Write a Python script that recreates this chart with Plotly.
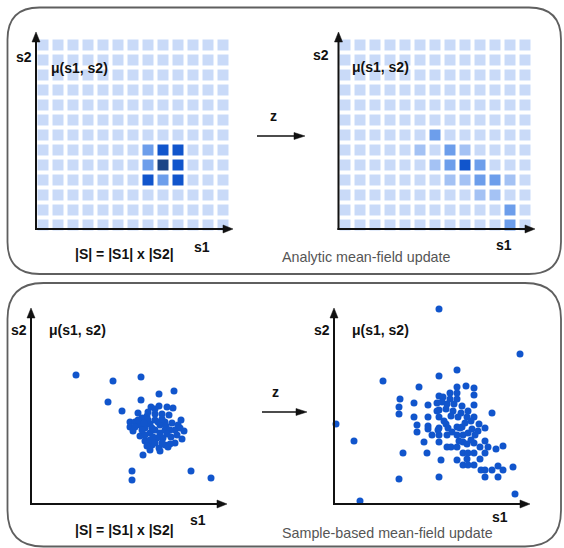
import plotly.graph_objects as go

W, H = 564, 548

# ---------------- data ----------------
GRID_N = 13
level_colors = ["#c9daf8", "#a4c2f4", "#6d9eeb", "#1155cc", "#1c4587"]

# (row from top, column from left, intensity level)
before_rows = [7, 7, 7, 8, 8, 8, 9, 9, 9]
before_cols = [7, 8, 9, 7, 8, 9, 7, 8, 9]
before_lvls = [2, 3, 3, 2, 4, 3, 3, 2, 3]

after_rows = [6, 7, 7, 7, 8, 8, 8, 8, 9, 9, 9, 9, 9, 10, 10, 11, 12]
after_cols = [6, 5, 7, 8, 6, 7, 8, 9, 7, 8, 9, 10, 11, 9, 10, 11, 11]
after_lvls = [2, 1, 2, 1, 1, 2, 3, 2, 1, 1, 2, 2, 1, 1, 1, 2, 2]

# sample-based: samples before the update
before_s1 = [45, 82, 110, 143, 128, 77, 110, 91, 112, 101, 101, 160, 180,
             120, 128, 136, 142, 138, 150, 99, 104, 99, 102, 111, 116, 124, 131,
             134, 141, 144, 153, 151, 144, 134, 128, 121, 114, 109, 129, 119, 140, 147,
             109, 114, 119, 124, 129, 124, 119, 114, 129, 134, 139, 132, 126, 119, 111,
             107, 117, 121, 127, 135, 139, 124, 116, 131, 104, 122, 113, 136, 146, 149,
             131, 117, 124, 107, 137]
before_s2 = [129, 123, 127, 113, 110, 102, 104, 93, 49, 33, 24, 33, 26,
             97, 98, 97, 96, 89, 84, 82, 82, 77, 73, 86, 88, 90, 90,
             82, 81, 74, 73, 65, 61, 59, 56, 59, 63, 68, 53, 54, 67, 79,
             79, 76, 80, 84, 79, 74, 71, 69, 71, 74, 74, 66, 66, 64, 74,
             84, 84, 76, 82, 78, 60, 61, 58, 85, 77, 67, 81, 70, 69, 76,
             61, 92, 95, 91, 57]

# sample-based: samples after the update
after_s1 = [105, 186, 49, 85, 105, 123, 66, 65, 65, 80, 80, 83, 83, 94, 94, 94, 94, 98,
            90, 93, 69, 65, 105, 107, 2, 20, 26, 181, 201,
            105, 109, 116, 123, 132, 140, 140, 123, 123, 103, 113, 116, 105, 112, 119,
            128, 140, 134, 158, 140, 133, 124, 117, 105, 112, 123, 128, 131, 138, 144,
            151, 105, 114, 105, 113, 123, 129, 134, 141, 105, 113, 117, 123, 129, 133,
            140, 151, 146, 154, 162, 169, 129, 134, 140, 151, 123, 133, 146, 129, 134,
            140, 147, 151, 151, 158, 164, 169, 164, 179,
            103, 104, 126, 108, 120, 127, 137, 118, 110, 125, 137, 145]
after_s2 = [195, 150, 123, 117, 128, 134, 105, 97, 90, 101, 87, 79, 72, 99, 87, 78, 75, 69,
            62, 51, 51, 25, 27, 44, 80, 63, 3, 10, 2,
            108, 107, 111, 117, 118, 116, 109, 111, 105, 101, 100, 105, 94, 95, 93,
            98, 99, 93, 91, 87, 87, 87, 88, 87, 80, 77, 77, 81, 75, 73,
            76, 76, 76, 69, 69, 69, 69, 71, 69, 62, 57, 57, 57, 62, 60,
            61, 63, 57, 57, 55, 58, 51, 51, 51, 51, 44, 45, 45, 39, 39,
            39, 34, 34, 27, 34, 38, 34, 27, 37,
            93, 74, 76, 102, 100, 91, 83, 72, 83, 63, 64, 80]

labels = {
    "s1": "s1", "s2": "s2", "mu": "μ(s1, s2)", "size": "|S| = |S1| x |S2|", "z": "z",
    "top_caption": "Analytic mean-field update",
    "bottom_caption": "Sample-based mean-field update",
}

# ---------------- helpers ----------------
def X(p):
    return p / W

def Y(p):
    return 1 - p / H

def build_z(rows, cols, lvls):
    z = [[0] * GRID_N for _ in range(GRID_N)]
    for r, c, v in zip(rows, cols, lvls):
        z[r][c] = v
    return z

n = len(level_colors)
colorscale = []
for i, c in enumerate(level_colors):
    colorscale.append([i / n, c])
    colorscale.append([(i + 1) / n, c])

fig = go.Figure()

# heatmaps
for idx, (rows, cols, lvls) in enumerate([(before_rows, before_cols, before_lvls),
                                          (after_rows, after_cols, after_lvls)], start=1):
    fig.add_trace(go.Heatmap(
        z=build_z(rows, cols, lvls), x=list(range(GRID_N)), y=list(range(GRID_N)),
        colorscale=colorscale, zmin=-0.5, zmax=n - 0.5, showscale=False,
        xgap=4, ygap=4, hoverinfo="skip",
        xaxis="x" if idx == 1 else "x2", yaxis="y" if idx == 1 else "y2"))

# scatters
fig.add_trace(go.Scatter(x=before_s1, y=before_s2, mode="markers",
                         marker=dict(size=7, color="#1155cc"), cliponaxis=False,
                         hoverinfo="skip", xaxis="x3", yaxis="y3"))
fig.add_trace(go.Scatter(x=after_s1, y=after_s2, mode="markers",
                         marker=dict(size=7, color="#1155cc"), cliponaxis=False,
                         hoverinfo="skip", xaxis="x4", yaxis="y4"))

hidden = dict(visible=False, fixedrange=True)
grid_x_range = [-0.5, GRID_N - 0.5]
grid_y_range = [GRID_N - 0.5, -0.5]
fig.update_layout(
    xaxis=dict(domain=[X(35.5), X(230.5)], range=grid_x_range, anchor="y", **hidden),
    yaxis=dict(domain=[Y(232.5), Y(37.5)], range=grid_y_range, anchor="x", **hidden),
    xaxis2=dict(domain=[X(337.5), X(532.5)], range=grid_x_range, anchor="y2", **hidden),
    yaxis2=dict(domain=[Y(232.5), Y(37.5)], range=grid_y_range, anchor="x2", **hidden),
    xaxis3=dict(domain=[X(31), X(231)], range=[0, 200], anchor="y3", **hidden),
    yaxis3=dict(domain=[Y(504), Y(304)], range=[0, 200], anchor="x3", **hidden),
    xaxis4=dict(domain=[X(334), X(534)], range=[0, 200], anchor="y4", **hidden),
    yaxis4=dict(domain=[Y(504), Y(304)], range=[0, 200], anchor="x4", **hidden),
)

shapes = []

def rounded_rect(x0, y0, x1, y1, r):
    pts = [
        ("M", [(x0 + r, y0)]), ("L", [(x1 - r, y0)]), ("Q", [(x1, y0), (x1, y0 + r)]),
        ("L", [(x1, y1 - r)]), ("Q", [(x1, y1), (x1 - r, y1)]), ("L", [(x0 + r, y1)]),
        ("Q", [(x0, y1), (x0, y1 - r)]), ("L", [(x0, y0 + r)]), ("Q", [(x0, y0), (x0 + r, y0)]),
    ]
    path = " ".join(cmd + " " + " ".join(f"{X(a):.5f},{Y(b):.5f}" for a, b in p) for cmd, p in pts) + " Z"
    shapes.append(dict(type="path", path=path, xref="paper", yref="paper",
                       line=dict(color="#5f5f5f", width=1.8), layer="below"))

def arrow(x0, y0, x1, y1, width, head_len, head_w, color="#111111"):
    dx, dy = x1 - x0, y1 - y0
    L = (dx * dx + dy * dy) ** 0.5
    ux, uy = dx / L, dy / L
    bx, by = x1 - ux * head_len, y1 - uy * head_len
    shapes.append(dict(type="line", xref="paper", yref="paper",
                       x0=X(x0), y0=Y(y0), x1=X(bx + ux * 1), y1=Y(by + uy * 1),
                       line=dict(color=color, width=width), layer="above"))
    px, py = -uy, ux
    p1 = (bx + px * head_w / 2, by + py * head_w / 2)
    p2 = (bx - px * head_w / 2, by - py * head_w / 2)
    path = f"M {X(x1):.5f},{Y(y1):.5f} L {X(p1[0]):.5f},{Y(p1[1]):.5f} L {X(p2[0]):.5f},{Y(p2[1]):.5f} Z"
    shapes.append(dict(type="path", path=path, xref="paper", yref="paper",
                       fillcolor=color, line=dict(color=color, width=0.5), layer="above"))

rounded_rect(7.5, 7.5, 561, 274, 32)
rounded_rect(7.5, 283, 561, 546.5, 36)

# axes of the four diagrams
arrow(36, 230, 36, 32, 2, 10, 8)
arrow(35, 229, 233, 229, 2, 10, 8)
arrow(338.5, 230, 338.5, 32, 2, 10, 8)
arrow(337.5, 229, 535, 229, 2, 10, 8)
arrow(31, 505, 31, 308, 2, 10, 8)
arrow(30, 504, 227, 504, 2, 10, 8)
arrow(334, 505, 334, 308, 2, 10, 8)
arrow(333, 504, 530, 504, 2, 10, 8)
# z arrows
arrow(257, 136, 305, 136, 1.6, 11, 7)
arrow(262, 412, 307, 412, 1.6, 11, 7)

fig.update_layout(shapes=shapes)

FONT = "Liberation Sans, Arial, sans-serif"
ann = []

def label(text, x, y, size=14, bold=True, color="#111111"):
    ann.append(dict(text=f"<b>{text}</b>" if bold else text, x=X(x), y=Y(y),
                    xref="paper", yref="paper", showarrow=False,
                    xanchor="center", yanchor="middle",
                    font=dict(family=FONT, size=size, color=color)))

label(labels["s2"], 23.5, 57)
label(labels["mu"], 79, 68)
label(labels["s1"], 202, 247)
label(labels["size"], 125, 254)
label(labels["z"], 273, 116)
label(labels["top_caption"], 366, 257, size=14.3, bold=False, color="#555555")
label(labels["s2"], 321, 55)
label(labels["mu"], 381, 67)
label(labels["s1"], 504, 245)

label(labels["s2"], 18.5, 330)
label(labels["mu"], 77.5, 330)
label(labels["s1"], 198, 520)
label(labels["size"], 125, 530)
label(labels["z"], 275, 392)
label(labels["s2"], 321.5, 330)
label(labels["mu"], 381, 330)
label(labels["s1"], 500, 517)
label(labels["bottom_caption"], 387, 533, size=14.3, bold=False, color="#555555")

fig.update_layout(
    annotations=ann, width=W, height=H, margin=dict(l=0, r=0, t=0, b=0),
    paper_bgcolor="white", plot_bgcolor="rgba(0,0,0,0)", showlegend=False,
)

fig.write_html("out.html")
